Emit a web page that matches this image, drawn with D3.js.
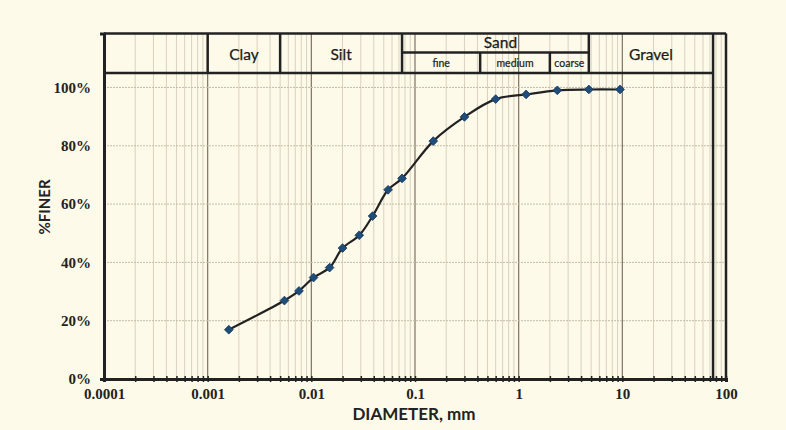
<!DOCTYPE html>
<html>
<head>
<meta charset="utf-8">
<script src="https://cdn.jsdelivr.net/npm/d3@7"></script>
<style>
  body { margin: 0; background: #fdfae9; }
  svg { display: block; }
</style>
</head>
<body>
<svg id="chart" width="786" height="430"></svg>
<script>
// grain size data (diameter in mm, percent finer)
var diameters = [0.0016, 0.0055, 0.0076, 0.0105, 0.015, 0.020, 0.029, 0.039, 0.055, 0.075, 0.15, 0.30, 0.60, 1.18, 2.36, 4.75, 9.5];
var percentFiner = [16.9, 26.9, 30.2, 34.8, 38.2, 44.9, 49.3, 55.9, 64.9, 68.8, 81.6, 89.9, 96.0, 97.6, 99.0, 99.3, 99.3];

var xTickValues = [0.0001, 0.001, 0.01, 0.1, 1, 10, 100];
var xTickLabels = ["0.0001", "0.001", "0.01", "0.1", "1", "10", "100"];
var yTickValues = [0, 20, 40, 60, 80, 100];
var yTickLabels = ["0%", "20%", "40%", "60%", "80%", "100%"];

// soil classification header
var soilNames = ["Clay", "Silt", "Sand", "Gravel"];
var soilBounds = [0.001, 0.005, 0.075, 4.75, 75];
var sandNames = ["fine", "medium", "coarse"];
var sandBounds = [0.075, 0.425, 2.0, 4.75];

var svg = d3.select("#chart");
var plotLeft = 104, plotRight = 726, plotTop = 33.5, plotBottom = 379;

var x = d3.scaleLog().domain([0.0001, 100]).range([plotLeft, plotRight]);
var y = d3.scaleLinear().domain([0, 118.5]).range([plotBottom, plotTop]);

// all minor values 1..9 per decade
var minorX = [];
for (var e = -4; e < 2; e++) {
    for (var m = 1; m < 10; m++) {
        minorX.push(+(m * Math.pow(10, e)).toPrecision(3));
    }
}
minorX.push(100);

function isMajor(d) {
    return xTickValues.indexOf(d) >= 0;
}

// vertical grid
svg.append("g")
    .selectAll("line")
    .data(minorX)
    .join("line")
        .attr("x1", d => x(d))
        .attr("x2", d => x(d))
        .attr("y1", plotTop)
        .attr("y2", plotBottom)
        .style("stroke", d => isMajor(d) ? "#7d7163" : "#dad1bf")
        .style("stroke-width", d => isMajor(d) ? 1.2 : 1);

// horizontal grid
svg.append("g")
    .selectAll("line")
    .data(yTickValues.slice(1))
    .join("line")
        .attr("x1", plotLeft)
        .attr("x2", plotRight)
        .attr("y1", d => y(d))
        .attr("y2", d => y(d))
        .style("stroke", "#c4baa8")
        .style("stroke-width", 1)
        .style("stroke-dasharray", "2,1");

// x axis
var xAxis = d3.axisBottom(x)
    .tickValues(minorX)
    .tickSize(3)
    .tickFormat(function(d) {
        var i = xTickValues.indexOf(d);
        return i >= 0 ? xTickLabels[i] : "";
    });
var gx = svg.append("g")
    .attr("transform", "translate(0," + plotBottom + ")")
    .call(xAxis);
gx.select(".domain").style("stroke", "#222").style("stroke-width", 3);
gx.selectAll(".tick line").attr("y1", -3).style("stroke", "#222").style("stroke-width", 1.5);
gx.selectAll(".tick text")
    .attr("y", 9)
    .style("font-family", "'Liberation Serif', serif")
    .style("font-weight", "bold")
    .style("font-size", "15px")
    .style("fill", "#222");

// y axis
var yMinor = d3.range(0, 119, 2);
var yAxis = d3.axisLeft(y)
    .tickValues(yMinor)
    .tickSize(4)
    .tickFormat(function(d) {
        var i = yTickValues.indexOf(d);
        return i >= 0 ? yTickLabels[i] : "";
    });
var gy = svg.append("g")
    .attr("transform", "translate(" + plotLeft + ",0)")
    .call(yAxis);
gy.select(".domain").style("stroke", "#222").style("stroke-width", 3);
gy.selectAll(".tick line").attr("x2", 2).style("stroke", "#222").style("stroke-width", 1.5);
gy.selectAll(".tick text")
    .attr("x", -13)
    .style("font-family", "'Liberation Serif', serif")
    .style("font-weight", "bold")
    .style("font-size", "15px")
    .style("fill", "#222");

// frame + header boxes
var frame = svg.append("g").style("stroke", "#222").style("stroke-width", 2.5).style("fill", "none");
var headerBottom = 73, sandMid = 52.5;
frame.append("line").attr("x1", plotLeft).attr("x2", plotRight).attr("y1", plotTop).attr("y2", plotTop);
frame.append("line").attr("x1", plotLeft).attr("x2", x(75)).attr("y1", headerBottom).attr("y2", headerBottom);
frame.append("line").attr("x1", plotRight).attr("x2", plotRight).attr("y1", plotTop).attr("y2", plotBottom);
frame.append("line").attr("x1", x(75)).attr("x2", x(75)).attr("y1", plotTop).attr("y2", plotBottom);
soilBounds.slice(0, 4).forEach(function(b) {
    frame.append("line").attr("x1", x(b)).attr("x2", x(b)).attr("y1", plotTop).attr("y2", headerBottom);
});
frame.append("line").attr("x1", x(0.075)).attr("x2", x(4.75)).attr("y1", sandMid).attr("y2", sandMid);
sandBounds.slice(1, 3).forEach(function(b) {
    frame.append("line").attr("x1", x(b)).attr("x2", x(b)).attr("y1", sandMid).attr("y2", headerBottom);
});

// header text
soilNames.forEach(function(name, i) {
    var cx = (x(soilBounds[i]) + x(soilBounds[i + 1])) / 2;
    var ty = name == "Sand" ? 48 : 60;
    svg.append("text")
        .attr("x", name == "Sand" ? cx + 5 : cx)
        .attr("y", ty)
        .attr("text-anchor", "middle")
        .style("font-family", "Lato, sans-serif")
        .style("font-size", "15.5px")
        .style("fill", "#1a1a1a")
        .style("stroke", "#1a1a1a")
        .style("stroke-width", 0.25)
        .text(name);
});
sandNames.forEach(function(name, i) {
    var cx = (x(sandBounds[i]) + x(sandBounds[i + 1])) / 2;
    svg.append("text")
        .attr("x", cx)
        .attr("y", 67)
        .attr("text-anchor", "middle")
        .style("font-family", "Lato, sans-serif")
        .style("font-size", "10.5px")
        .style("fill", "#1a1a1a")
        .style("stroke", "#1a1a1a")
        .style("stroke-width", 0.2)
        .text(name);
});

// axis titles
svg.append("text")
    .attr("transform", "translate(50,207) rotate(-90)")
    .attr("text-anchor", "middle")
    .style("font-family", "Lato, sans-serif")
    .style("font-weight", "bold")
    .style("font-size", "15px")
    .style("fill", "#222")
    .text("%FINER");
svg.append("text")
    .attr("x", 414)
    .attr("y", 420)
    .attr("text-anchor", "middle")
    .style("font-family", "Lato, sans-serif")
    .style("font-weight", "bold")
    .style("font-size", "17px")
    .style("fill", "#222")
    .text("DIAMETER, mm");

// gradation curve
var pts = diameters.map(function(d, i) { return [d, percentFiner[i]]; });
var line = d3.line()
    .x(d => x(d[0]))
    .y(d => y(d[1]))
    .curve(d3.curveCatmullRom);
svg.append("path")
    .attr("d", line(pts))
    .style("fill", "none")
    .style("stroke", "#222")
    .style("stroke-width", 2.2);

svg.append("g")
    .selectAll("path")
    .data(pts)
    .join("path")
        .attr("transform", d => "translate(" + x(d[0]) + "," + y(d[1]) + ") rotate(45)")
        .attr("d", d3.symbol().type(d3.symbolSquare).size(38))
        .style("fill", "#1f4d7a")
        .style("stroke", "#163a5e")
        .style("stroke-width", 0.8);
</script>
</body>
</html>
